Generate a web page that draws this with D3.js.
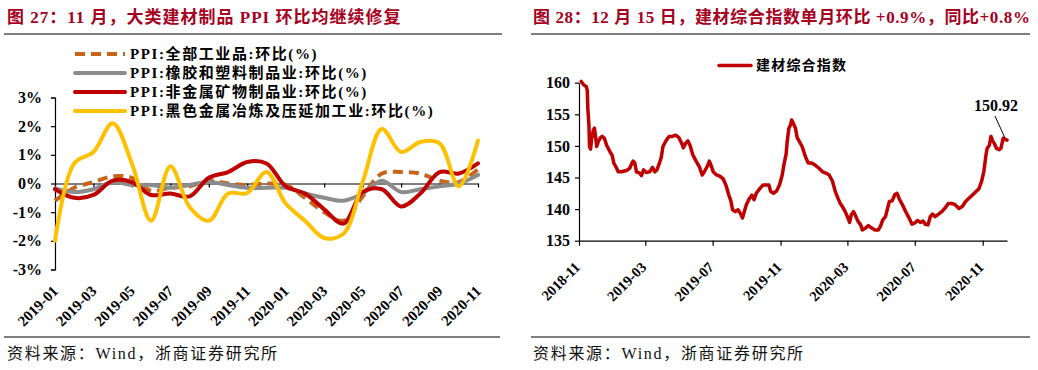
<!DOCTYPE html>
<html><head><meta charset="utf-8">
<script src="https://cdn.jsdelivr.net/npm/d3@7"></script>
<style>
body{margin:0;background:#fff;}
svg{display:block;}
text{font-family:"Liberation Serif","Times New Roman","Noto Sans CJK SC",serif;}
</style></head><body>
<svg id="c" width="1038" height="370"></svg>
<script>
// ---------- Left chart data ----------
const months = ["2019-01","2019-02","2019-03","2019-04","2019-05","2019-06","2019-07","2019-08","2019-09","2019-10","2019-11","2019-12",
                "2020-01","2020-02","2020-03","2020-04","2020-05","2020-06","2020-07","2020-08","2020-09","2020-10","2020-11"];
const monthTickLabels = ["2019-01","2019-03","2019-05","2019-07","2019-09","2019-11","2020-01","2020-03","2020-05","2020-07","2020-09","2020-11"];
const ppiAll    = [-0.6,-0.15,0.05,0.25,0.2,-0.25,-0.15,-0.1,0.1,0.0,-0.05,0.0,-0.05,-0.5,-1.0,-1.3,-0.45,0.35,0.4,0.35,0.1,0.05,0.5];
const ppiRubber = [-0.17,-0.3,-0.2,0.05,-0.05,-0.05,-0.15,-0.05,0.05,-0.05,-0.15,-0.15,-0.15,-0.35,-0.5,-0.6,-0.35,0.1,-0.3,-0.2,-0.1,0.0,0.3];
const ppiNonMet = [-0.2,-0.5,-0.4,0.1,0.05,-0.4,-0.35,-0.45,0.2,0.4,0.75,0.7,-0.1,-0.35,-0.9,-1.4,-0.3,-0.2,-0.8,-0.35,0.4,0.35,0.7];
const ppiFerrous= [-2.0,0.7,1.1,2.1,0.7,-1.3,0.6,-0.82,-1.3,-0.35,-0.33,0.4,-0.7,-1.3,-1.9,-1.75,0.05,1.9,1.1,1.45,1.4,-0.1,1.5];
const leftSeriesNames = ["PPI:全部工业品:环比(%)","PPI:橡胶和塑料制品业:环比(%)","PPI:非金属矿物制品业:环比(%)","PPI:黑色金属冶炼及压延加工业:环比(%)"];
const leftYTicks = [-3,-2,-1,0,1,2,3];

// ---------- Right chart data ----------
const idxDates = ["2018-11-05","2018-11-09","2018-11-14","2018-11-16","2018-11-17","2018-11-19","2018-11-20","2018-11-22","2018-11-24","2018-11-27","2018-11-29",
"2018-12-01","2018-12-03","2018-12-06","2018-12-10","2018-12-13","2018-12-17","2018-12-21","2018-12-27","2018-12-31",
"2019-01-03","2019-01-08","2019-01-11","2019-01-17","2019-01-26","2019-02-01","2019-02-05","2019-02-07","2019-02-10","2019-02-13","2019-02-19","2019-02-22","2019-02-26",
"2019-03-03","2019-03-09","2019-03-14","2019-03-18","2019-03-22","2019-03-26","2019-03-30","2019-04-02","2019-04-08","2019-04-13","2019-04-19","2019-04-25",
"2019-05-01","2019-05-06","2019-05-09","2019-05-13","2019-05-17","2019-05-21","2019-05-26","2019-06-01","2019-06-07","2019-06-12","2019-06-16","2019-06-22","2019-06-25","2019-06-29",
"2019-07-02","2019-07-08","2019-07-14","2019-07-20","2019-07-25","2019-07-30","2019-08-03","2019-08-06","2019-08-11","2019-08-16","2019-08-21","2019-08-24","2019-08-27","2019-08-31",
"2019-09-05","2019-09-10","2019-09-14","2019-09-18","2019-09-24","2019-09-30","2019-10-06","2019-10-11","2019-10-14","2019-10-19","2019-10-25","2019-10-30",
"2019-11-04","2019-11-07","2019-11-11","2019-11-13","2019-11-16","2019-11-19","2019-11-21","2019-11-24","2019-11-28","2019-12-01","2019-12-05","2019-12-10","2019-12-16","2019-12-21","2019-12-27",
"2020-01-02","2020-01-09","2020-01-16","2020-01-22","2020-01-28","2020-02-03","2020-02-08","2020-02-13","2020-02-17","2020-02-21","2020-02-26",
"2020-03-02","2020-03-05","2020-03-08","2020-03-12","2020-03-15","2020-03-20","2020-03-25","2020-03-28","2020-04-03","2020-04-08","2020-04-14","2020-04-20","2020-04-26","2020-04-30",
"2020-05-04","2020-05-09","2020-05-13","2020-05-16","2020-05-21","2020-05-26","2020-05-30","2020-06-03","2020-06-08","2020-06-14","2020-06-20","2020-06-26",
"2020-07-01","2020-07-06","2020-07-11","2020-07-16","2020-07-20","2020-07-25","2020-07-29","2020-08-02","2020-08-07","2020-08-13","2020-08-19","2020-08-25","2020-08-31",
"2020-09-06","2020-09-12","2020-09-19","2020-09-25","2020-10-01","2020-10-07","2020-10-13","2020-10-19","2020-10-25","2020-10-30",
"2020-11-03","2020-11-07","2020-11-09","2020-11-13","2020-11-16","2020-11-19","2020-11-22","2020-11-26","2020-12-01","2020-12-04","2020-12-08","2020-12-15"];
const idxValues = [160.2,159.7,159.4,158.8,155.9,153.3,149.9,149.5,151.2,152.5,152.8,
151.5,149.9,150.7,151.3,151.5,151.2,150.1,149.1,148.5,
147.3,146.5,145.9,145.9,146.1,146.5,147.3,147.6,147.3,145.9,145.7,145.3,146.2,
145.8,145.9,146.6,145.9,146.2,147.1,148.2,149.9,150.9,151.5,151.5,151.7,
151.3,150.4,149.7,150.4,150.8,150.1,148.6,147.6,146.7,145.4,145.9,146.9,147.6,146.7,
145.9,145.4,145.2,144.8,143.8,142.3,141.3,139.9,139.6,139.9,139.2,138.6,139.5,140.7,
141.6,142.2,141.5,142.5,143.2,143.8,143.8,143.8,142.8,142.5,142.9,143.8,
145.4,147.0,148.7,150.7,152.8,153.3,154.1,153.6,152.8,151.3,150.7,149.9,148.3,147.3,147.3,
147.0,146.5,145.9,145.7,145.4,144.4,142.8,141.7,140.9,140.4,139.6,
138.6,137.9,139.1,139.6,139.1,138.1,137.5,136.7,137.0,137.4,137.0,136.7,136.7,137.3,
138.3,138.8,140.2,141.2,141.3,142.3,142.5,141.6,140.8,139.7,138.7,137.6,
137.8,138.2,137.9,138.1,137.6,137.5,138.8,139.2,138.8,139.2,139.6,140.2,140.9,
140.9,140.7,140.1,140.4,141.2,141.7,142.2,142.7,143.2,144.4,
145.9,148.6,149.6,150.1,151.5,150.8,150.4,149.6,149.4,149.6,151.2,150.92];
const idxTickDates = ["2018-11-01","2019-03-01","2019-07-01","2019-11-01","2020-03-01","2020-07-01","2020-11-01"];
const idxYTicks = [135,140,145,150,155,160];
const idxName = "建材综合指数";
const idxLastLabel = "150.92";

const svg = d3.select("#c");
const titleColor = "#A50021";

// ---------- Titles, rules, sources ----------
svg.append("text").attr("x",7).attr("y",23).attr("fill",titleColor).attr("font-weight","bold")
  .attr("font-size",17).attr("letter-spacing",1).text("图 27：11 月，大类建材制品 PPI 环比均继续修复");
svg.append("text").attr("x",533).attr("y",23).attr("fill",titleColor).attr("font-weight","bold")
  .attr("font-size",17).attr("letter-spacing",0.6).text("图 28：12 月 15 日，建材综合指数单月环比  +0.9%，同比+0.8%");
[[4,502,34],[531,1030,34],[4,500,337],[531,1030,337]].forEach(([a,b,yy])=>{
  svg.append("line").attr("x1",a).attr("x2",b).attr("y1",yy).attr("y2",yy).attr("stroke","#000").attr("stroke-width",1.2);
});
svg.append("text").attr("x",7).attr("y",359).attr("font-size",16).attr("letter-spacing",1.7).attr("fill","#111").text("资料来源：Wind，浙商证券研究所");
svg.append("text").attr("x",533).attr("y",359).attr("font-size",16).attr("letter-spacing",1.7).attr("fill","#111").text("资料来源：Wind，浙商证券研究所");

// ---------- Left chart ----------
const xL = d3.scalePoint().domain(months).range([55,478]);
const yL = d3.scaleLinear().domain([-3,3]).range([269.5,97.5]);
const gL = svg.append("g");

const yAxisL = d3.axisLeft(yL).tickValues(leftYTicks).tickFormat(d=>d+"%").tickSize(4).tickPadding(9);
gL.append("g").attr("transform","translate(55,0)").call(yAxisL)
  .call(g=>g.selectAll("text").attr("font-size",16).attr("font-weight","bold").attr("font-family","Liberation Serif").attr("fill","#000"))
  .call(g=>g.selectAll("line,path").attr("stroke","#000").attr("stroke-width",1.2));

const xAxisL = d3.axisBottom(xL).tickValues(monthTickLabels).tickFormat("").tickSize(4).tickSizeOuter(0);
gL.append("g").attr("transform",`translate(0,${yL(0)})`).call(xAxisL)
  .call(g=>g.selectAll("line,path").attr("stroke","#000").attr("stroke-width",1.2));
gL.append("g").selectAll("text").data(monthTickLabels).join("text")
  .attr("transform",d=>`translate(${xL(d)+4},292) rotate(-45)`).attr("text-anchor","end")
  .attr("font-size",15).attr("font-weight","bold").text(d=>d);

const leftSeries = [
  {name:leftSeriesNames[0], values:ppiAll, color:"#C8651B", dash:"10,6"},
  {name:leftSeriesNames[1], values:ppiRubber, color:"#8C8C8C", dash:null},
  {name:leftSeriesNames[2], values:ppiNonMet, color:"#C00000", dash:null},
  {name:leftSeriesNames[3], values:ppiFerrous, color:"#FFC000", dash:null}
];
const lineL = d3.line().x((d,i)=>xL(months[i])).y(d=>yL(d)).curve(d3.curveCatmullRom.alpha(0.5));
leftSeries.forEach(s=>{
  gL.append("path").attr("d",lineL(s.values)).attr("fill","none").attr("stroke",s.color)
    .attr("stroke-width",4).attr("stroke-linecap",s.dash?"butt":"round").attr("stroke-linejoin","round")
    .attr("stroke-dasharray",s.dash);
});
// legend
leftSeries.forEach((s,i)=>{
  const yy = 54 + i*19;
  gL.append("line").attr("x1",75).attr("x2",125).attr("y1",yy).attr("y2",yy).attr("stroke",s.color)
    .attr("stroke-width",4).attr("stroke-dasharray",s.dash).attr("stroke-linecap",s.dash?"butt":"round");
  gL.append("text").attr("x",130).attr("y",yy).attr("dy","0.35em").attr("font-size",15).attr("font-weight","bold")
    .attr("letter-spacing",1.6).text(s.name);
});

// ---------- Right chart ----------
const parse = d3.timeParse("%Y-%m-%d");
const xR = d3.scaleTime().domain([parse("2018-11-01"),parse("2020-12-15")]).range([579,1007]);
const yR = d3.scaleLinear().domain([135,160]).range([240.7,82.7]);
const gR = svg.append("g");
gR.append("g").attr("transform","translate(579,0)").call(d3.axisLeft(yR).tickValues(idxYTicks).tickSize(4).tickPadding(5).tickSizeOuter(0))
  .call(g=>g.selectAll("text").attr("font-size",16).attr("font-weight","bold").attr("font-family","Liberation Serif").attr("fill","#000"))
  .call(g=>g.selectAll("line,path").attr("stroke","#000").attr("stroke-width",1.2));
gR.append("g").attr("transform",`translate(0,${yR(135)})`)
  .call(d3.axisBottom(xR).tickValues(idxTickDates.map(parse)).tickFormat("").tickSize(5).tickSizeOuter(0))
  .call(g=>g.selectAll("line,path").attr("stroke","#000").attr("stroke-width",1.2));
gR.append("g").selectAll("text").data(idxTickDates).join("text")
  .attr("transform",d=>`translate(${xR(parse(d))+2},268) rotate(-45)`).attr("text-anchor","end")
  .attr("font-size",14.5).attr("font-weight","bold").text(d=>d.slice(0,7));

const idxData = idxDates.map((d,i)=>({date:parse(d), value:idxValues[i]}));
gR.append("path").datum(idxData).attr("fill","none").attr("stroke","#C00000").attr("stroke-width",3.5)
  .attr("stroke-linejoin","round").attr("stroke-linecap","round")
  .attr("d",d3.line().x(d=>xR(d.date)).y(d=>yR(d.value)));

// legend
gR.append("line").attr("x1",719).attr("x2",751).attr("y1",65.5).attr("y2",65.5).attr("stroke","#C00000").attr("stroke-width",3.5).attr("stroke-linecap","round");
gR.append("text").attr("x",756).attr("y",65.5).attr("dy","0.35em").attr("font-size",14).attr("font-weight","bold").attr("letter-spacing",1.2).text(idxName);

// annotation
const last = idxData[idxData.length-1];
gR.append("line").attr("x1",xR(last.date)-12).attr("y1",yR(last.value)-24).attr("x2",xR(last.date)-2).attr("y2",yR(last.value)-2)
  .attr("stroke","#000").attr("stroke-width",1);
gR.append("text").attr("x",xR(last.date)-33).attr("y",yR(last.value)-29).attr("font-size",16).attr("font-weight","bold").text(idxLastLabel);
</script>
</body></html>
